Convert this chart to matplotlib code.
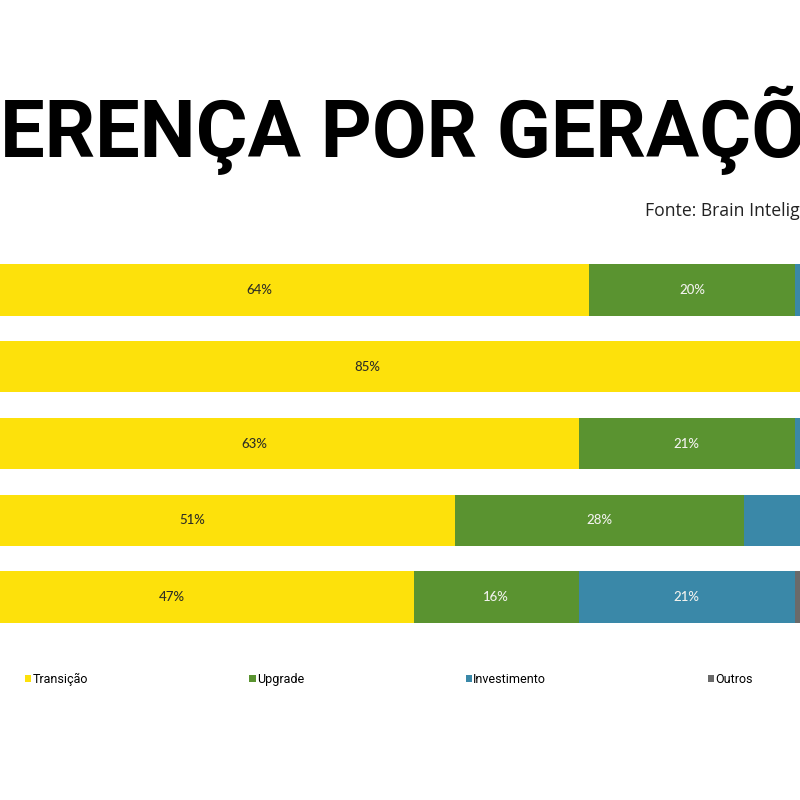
import matplotlib
matplotlib.use("Agg")
import matplotlib.pyplot as plt
from matplotlib import font_manager
import numpy as np

# Share of each choice per generation row (top to bottom), in percent
transicao = [64, 85, 63, 51, 47]
upgrade = [20, 8, 21, 28, 16]
investimento = [14, 5, 13, 18, 21]
outros = [2, 2, 3, 3, 16]

series_names = ["Transição", "Upgrade", "Investimento", "Outros"]
series_colors = ["#FDE10B", "#5A9330", "#3A88A8", "#6A6A6A"]
label_colors = ["#2F2F25", "#F2F2EE", "#F2F2EE", "#F2F2EE"]

title = "DIFERENÇA POR GERAÇÕES"
source = "Fonte: Brain Inteligência Estratégica"

W, H = 800, 800
fig = plt.figure(figsize=(W / 100, H / 100), dpi=100)
fig.patch.set_facecolor("white")

# axes wider than the canvas: the picture is a crop of a larger chart
x0_px, pct_px = -70.2, 10.3
row_px = 76.75
top_px = 290 - row_px / 2
ax = fig.add_axes([x0_px / W, 1 - (top_px + 5 * row_px) / H, 100 * pct_px / W, 5 * row_px / H])
ax.set_xlim(0, 100)
ax.set_ylim(4.5, -0.5)
ax.axis("off")

rows = np.arange(len(transicao))
left = np.zeros(len(rows))
handles = []
for vals, name, color, tcolor in zip(
    [transicao, upgrade, investimento, outros], series_names, series_colors, label_colors
):
    vals = np.array(vals, dtype=float)
    bars = ax.barh(rows, vals, left=left, height=0.665, color=color, label=name)
    handles.append(bars)
    for y, v, l in zip(rows, vals, left):
        if v >= 5:
            ax.text(l + v / 2, y, f"{int(v)}%", ha="center", va="center",
                    fontsize=9.5, color=tcolor, family="Lato", fontweight="medium")
    left += vals

# title font: prefer a condensed heavy face if one is installed
title_font = dict(family="Roboto", fontweight="bold", fontstretch="normal")
for fam in ["Noto Sans", "Open Sans"]:
    for st in ["semi-condensed", "condensed"]:
        fp = font_manager.FontProperties(family=fam, weight="heavy", stretch=st)
        path = font_manager.findfont(fp, fallback_to_default=False)
        if "ondensed" in path and fam.replace(" ", "") in path.replace(" ", ""):
            title_font = dict(family=fam, fontweight="heavy", fontstretch=st)
            break
    if title_font["family"] != "Roboto":
        break

renderer = fig.canvas.get_renderer()


def text_width(s, size, **kw):
    t = fig.text(0, 0, s, fontsize=size, **kw)
    w = t.get_window_extent(renderer).width
    t.remove()
    return w


# title: scale so the visible part fits the crop, then shift "DIF" off the left edge
title_size = 60 * 752 / text_width("ERENÇA POR GERAÇ", 60, **title_font)
dif_w = text_width("DIF", title_size, **title_font)
fig.text(-dif_w / W, 1 - 157 / H, title, fontsize=title_size,
         ha="left", va="baseline", color="black", **title_font)

# source line: "Fonte: Brain Intelig" fills the space up to the right edge
src_size = 12 * 154 / text_width("Fonte: Brain Intelig", 12, family="Open Sans")
fig.text(645 / W, 1 - 211 / H, source, fontsize=src_size, family="Open Sans",
         ha="left", va="center", color="#222222")

fig.legend(handles=handles, labels=series_names, loc="center left",
           bbox_to_anchor=(25 / W, 1 - 679 / H), ncol=4, frameon=False,
           borderpad=0, borderaxespad=0, handlelength=0.5, handleheight=0.5,
           handletextpad=0.12, columnspacing=12.9,
           prop={"family": "Roboto", "size": 9})

fig.savefig("out.png", dpi=100)
